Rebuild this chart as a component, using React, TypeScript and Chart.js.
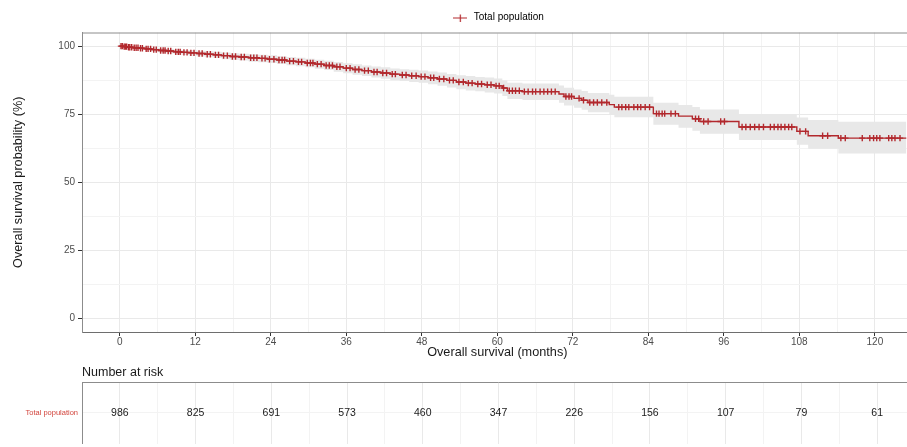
import React, { useEffect, useRef } from 'react';
import { Chart, registerables } from 'chart.js';

Chart.register(...registerables);

// ---------- data ----------
const KM_TIMES = [0, 0.6, 1.3, 2.1, 3.0, 4.0, 5.1, 6.2, 7.4, 8.6, 9.8, 11.0, 12.3, 13.6, 14.9, 16.2, 17.6, 19.0, 20.5, 22.0, 23.5, 25.0, 26.5, 28.0, 29.5, 31.0, 32.5, 34.0, 35.5, 37.0, 38.5, 40.0, 41.5, 43.0, 44.5, 46.0, 47.5, 49.0, 50.5, 52.0, 53.5, 55.0, 56.5, 58.0, 59.5, 60.8, 61.6, 64.0, 69.8, 70.6, 72.2, 73.4, 74.4, 77.8, 78.6, 84.8, 88.8, 91.0, 92.2, 98.4, 107.6, 109.4, 114.2, 125.0];
const KM_SURV = [100, 99.8, 99.6, 99.4, 99.2, 99.0, 98.7, 98.4, 98.2, 97.9, 97.7, 97.5, 97.3, 97.0, 96.8, 96.5, 96.2, 96.0, 95.7, 95.5, 95.2, 94.9, 94.5, 94.2, 93.8, 93.4, 92.9, 92.4, 91.9, 91.4, 91.0, 90.5, 90.1, 89.7, 89.4, 89.1, 88.8, 88.4, 87.9, 87.4, 86.8, 86.4, 86.1, 85.8, 85.4, 84.6, 83.6, 83.3, 82.4, 81.5, 80.8, 80.1, 79.3, 78.5, 77.6, 75.2, 74.3, 73.3, 72.3, 70.3, 68.7, 67.1, 66.2, 66.2];
const CI_UPPER = [100, 100, 99.9, 99.8, 99.7, 99.6, 99.4, 99.2, 99.0, 98.8, 98.6, 98.5, 98.3, 98.1, 97.9, 97.7, 97.4, 97.2, 97.0, 96.8, 96.6, 96.3, 96.0, 95.7, 95.4, 95.0, 94.6, 94.2, 93.7, 93.3, 92.9, 92.5, 92.2, 91.8, 91.5, 91.3, 91.0, 90.7, 90.3, 89.8, 89.3, 89.0, 88.7, 88.5, 88.1, 87.4, 86.5, 86.3, 85.5, 84.7, 84.1, 83.5, 82.8, 82.1, 81.4, 79.2, 78.4, 77.6, 76.7, 74.9, 73.8, 72.9, 72.2, 72.2];
const CI_LOWER = [100, 99.5, 99.2, 99.0, 98.7, 98.4, 98.0, 97.6, 97.3, 97.0, 96.8, 96.5, 96.2, 95.9, 95.6, 95.2, 94.9, 94.7, 94.3, 94.1, 93.8, 93.4, 93.0, 92.6, 92.2, 91.7, 91.2, 90.6, 90.0, 89.5, 89.0, 88.5, 88.0, 87.5, 87.2, 86.8, 86.5, 86.0, 85.4, 84.8, 84.2, 83.7, 83.4, 83.0, 82.6, 81.7, 80.6, 80.2, 79.2, 78.2, 77.4, 76.6, 75.7, 74.8, 73.9, 71.1, 70.0, 68.9, 67.8, 65.5, 63.8, 62.3, 60.6, 60.6];
const CENSOR_TIMES = [0.2, 0.4, 0.7, 0.9, 1.1, 1.4, 1.6, 1.9, 2.3, 2.6, 2.9, 3.3, 3.6, 4.2, 4.5, 4.9, 5.4, 5.8, 6.5, 6.9, 7.2, 7.7, 8.1, 8.9, 9.3, 9.6, 10.2, 10.7, 11.3, 11.8, 12.6, 13.1, 13.9, 14.4, 15.2, 15.7, 16.5, 17.1, 17.9, 18.4, 19.3, 19.8, 20.8, 21.3, 21.8, 22.6, 23.1, 23.8, 24.5, 25.3, 25.8, 26.2, 27.0, 27.6, 28.4, 28.9, 29.8, 30.3, 30.7, 31.4, 32.0, 32.8, 33.3, 33.8, 34.5, 35.0, 36.0, 36.6, 37.4, 38.0, 38.9, 39.5, 40.4, 40.9, 41.8, 42.4, 43.3, 43.8, 44.9, 45.5, 46.4, 47.1, 47.9, 48.5, 49.4, 49.9, 50.8, 51.5, 52.4, 53.0, 53.9, 54.6, 55.4, 56.0, 56.9, 57.5, 58.4, 59.0, 59.8, 60.3, 61.0, 61.9, 62.4, 62.9, 63.5, 64.3, 64.9, 65.6, 66.1, 66.8, 67.4, 68.0, 68.6, 69.2, 70.9, 71.4, 71.8, 73.0, 73.7, 74.7, 75.3, 75.9, 76.6, 77.4, 79.3, 79.8, 80.4, 80.9, 81.7, 82.3, 82.8, 83.5, 84.2, 85.3, 85.7, 86.2, 86.6, 87.6, 88.3, 91.5, 92.0, 92.8, 93.5, 95.5, 96.1, 98.9, 99.5, 100.2, 100.9, 101.6, 102.3, 103.4, 104.0, 104.6, 105.1, 105.7, 106.3, 106.8, 108.1, 109.0, 111.7, 112.5, 114.6, 115.3, 118.0, 119.2, 119.8, 120.3, 120.8, 122.2, 122.7, 123.2, 124.0];

const X_MAJOR = [0, 12, 24, 36, 48, 60, 72, 84, 96, 108, 120];
const X_MINOR = [6, 18, 30, 42, 54, 66, 78, 90, 102, 114];
const Y_MAJOR = [0, 25, 50, 75, 100];
const Y_MINOR = [12.5, 37.5, 62.5, 87.5];

const RISK_TIMES = [0, 12, 24, 36, 48, 60, 72, 84, 96, 108, 120];
const RISK_COUNTS = [986, 825, 691, 573, 460, 347, 226, 156, 107, 79, 61];
const RISK_GROUP = 'Total population';

const SERIES_LABEL = 'Total population';
const X_TITLE = 'Overall survival (months)';
const Y_TITLE = 'Overall survival probability (%)';
const RISK_TITLE = 'Number at risk';

// ---------- style ----------
const FONT = '"Liberation Sans", Arial, Helvetica, sans-serif';
const RED = '#b2282d';
const RED_LABEL = '#d2453d';
const BAND = '#e8e8e8';
const GRID_MAJOR = '#e9e9e9';
const GRID_MINOR = '#f3f3f3';
const BORDER = '#8c8c8c';
const X_MIN = -6;
const X_MAX = 126;

function survAt(t: number): number {
  let s = KM_SURV[0];
  for (let i = 0; i < KM_TIMES.length; i++) {
    if (KM_TIMES[i] <= t) s = KM_SURV[i];
  }
  return s;
}

function makeIcon(): HTMLCanvasElement {
  const c = document.createElement('canvas');
  c.width = 14;
  c.height = 8;
  const g = c.getContext('2d')!;
  g.strokeStyle = RED;
  g.lineWidth = 1.2;
  g.beginPath();
  g.moveTo(0, 4.5);
  g.lineTo(14, 4.5);
  g.moveTo(7.5, 1);
  g.lineTo(7.5, 8);
  g.stroke();
  return c;
}

const isMajor = (v: number) => Math.abs(v % 12) < 1e-6;
const isMajorY = (v: number) => Math.abs(v % 25) < 1e-6;

const panelBorder = {
  id: 'panelBorder',
  afterDraw(chart: any) {
    const { ctx, chartArea } = chart;
    ctx.save();
    ctx.strokeStyle = BORDER;
    ctx.lineWidth = 1;
    ctx.beginPath();
    ctx.moveTo(chartArea.left, chartArea.top + 0.5);
    ctx.lineTo(chartArea.right, chartArea.top + 0.5);
    ctx.moveTo(chartArea.right - 0.5, chartArea.top);
    ctx.lineTo(chartArea.right - 0.5, chartArea.bottom);
    ctx.stroke();
    ctx.restore();
  },
};

const riskLabels = {
  id: 'riskLabels',
  afterDatasetsDraw(chart: any) {
    const { ctx } = chart;
    const xs = chart.scales.x;
    const ys = chart.scales.y;
    ctx.save();
    ctx.fillStyle = '#1a1a1a';
    ctx.font = `10.5px ${FONT}`;
    ctx.textAlign = 'center';
    ctx.textBaseline = 'middle';
    RISK_TIMES.forEach((t, i) => {
      ctx.fillText(String(RISK_COUNTS[i]), xs.getPixelForValue(t), ys.getPixelForValue(1));
    });
    ctx.restore();
  },
};

export default function App() {
  const mainRef = useRef<HTMLCanvasElement>(null);
  const riskRef = useRef<HTMLCanvasElement>(null);

  useEffect(() => {
    const kmPts = KM_TIMES.map((t, i) => ({ x: t, y: KM_SURV[i] }));
    const upPts = KM_TIMES.map((t, i) => ({ x: t, y: CI_UPPER[i] }));
    const loPts = KM_TIMES.map((t, i) => ({ x: t, y: CI_LOWER[i] }));
    const cenPts = CENSOR_TIMES.map((t) => ({ x: t, y: survAt(t) }));
    const icon = makeIcon();
    const xTicks = [...X_MAJOR, ...X_MINOR].sort((a, b) => a - b);
    const yTicks = [...Y_MAJOR, ...Y_MINOR].sort((a, b) => a - b);

    const main = new Chart(mainRef.current!, {
      type: 'line',
      data: {
        datasets: [
          { label: 'censor', data: cenPts, showLine: false, pointStyle: 'cross', pointRadius: 3.2, borderColor: RED, backgroundColor: RED, pointBorderWidth: 1.4, borderWidth: 1.4 } as any,
          { label: SERIES_LABEL, data: kmPts, stepped: true, borderColor: RED, borderWidth: 1.4, pointRadius: 0, fill: false },
          { label: 'lower', data: loPts, stepped: true, borderWidth: 0, borderColor: 'rgba(0,0,0,0)', pointRadius: 0, fill: false },
          { label: 'upper', data: upPts, stepped: true, borderWidth: 0, borderColor: 'rgba(0,0,0,0)', pointRadius: 0, fill: '-1', backgroundColor: BAND },
        ],
      },
      options: {
        responsive: false,
        animation: false,
        events: [],
        layout: { padding: { left: 0, right: 3, top: 0, bottom: 0 } },
        plugins: {
          tooltip: { enabled: false },
          legend: {
            display: true,
            position: 'top',
            fullSize: false,
            maxHeight: 35.5,
            labels: {
              usePointStyle: true,
              pointStyleWidth: 18,
              padding: 12.5,
              color: '#1a1a1a',
              font: { family: FONT, size: 10 },
              generateLabels: () => [
                { text: SERIES_LABEL, pointStyle: icon as any, fillStyle: RED, strokeStyle: RED, lineWidth: 1, hidden: false, datasetIndex: 1 } as any,
              ],
            },
          },
        },
        scales: {
          x: {
            type: 'linear',
            min: X_MIN,
            max: X_MAX,
            afterBuildTicks: (s: any) => { s.ticks = xTicks.map((v) => ({ value: v })); },
            afterFit: (s: any) => { s.height = 30; },
            ticks: {
              autoSkip: false,
              maxRotation: 0,
              padding: 0,
              color: '#4d4d4d',
              font: { family: FONT, size: 10 },
              callback: (v: any) => (isMajor(Number(v)) ? String(v) : ''),
            },
            grid: {
              color: (c: any) => (c.tick && isMajor(c.tick.value) ? GRID_MAJOR : GRID_MINOR),
              tickColor: (c: any) => (c.tick && isMajor(c.tick.value) ? '#333333' : 'rgba(0,0,0,0)'),
              tickLength: 4,
            },
            border: { display: true, color: '#6e6e6e', width: 1 },
            title: {
              display: true,
              text: X_TITLE,
              color: '#1a1a1a',
              font: { family: FONT, size: 12.7 },
              padding: { top: 0, bottom: 1.5 },
            },
          },
          y: {
            type: 'linear',
            min: -5,
            max: 105,
            afterBuildTicks: (s: any) => { s.ticks = yTicks.map((v) => ({ value: v })); },
            afterFit: (s: any) => { s.width = 82; },
            ticks: {
              autoSkip: false,
              padding: 3,
              color: '#4d4d4d',
              font: { family: FONT, size: 10 },
              callback: (v: any) => (isMajorY(Number(v)) ? String(v) : ''),
            },
            grid: {
              color: (c: any) => (c.tick && isMajorY(c.tick.value) ? GRID_MAJOR : GRID_MINOR),
              tickColor: (c: any) => (c.tick && isMajorY(c.tick.value) ? '#333333' : 'rgba(0,0,0,0)'),
              tickLength: 4,
            },
            border: { display: true, color: BORDER, width: 1 },
            title: {
              display: true,
              text: Y_TITLE,
              color: '#1a1a1a',
              font: { family: FONT, size: 12.7 },
              padding: { top: 10.5, bottom: 0 },
            },
          },
        },
      },
      plugins: [panelBorder],
    });

    const risk = new Chart(riskRef.current!, {
      type: 'scatter',
      data: { datasets: [{ label: RISK_GROUP, data: RISK_TIMES.map((t) => ({ x: t, y: 1 })), pointRadius: 0 }] },
      options: {
        responsive: false,
        animation: false,
        events: [],
        layout: { padding: { left: 0, right: 3, top: 0, bottom: 0 } },
        plugins: {
          tooltip: { enabled: false },
          legend: { display: false },
          title: {
            display: true,
            text: RISK_TITLE,
            align: 'start',
            fullSize: false,
            color: '#1a1a1a',
            font: { family: FONT, size: 12.5, weight: 'normal' },
            padding: { top: 5, bottom: 2 },
          },
        },
        scales: {
          x: {
            type: 'linear',
            min: X_MIN,
            max: X_MAX,
            afterBuildTicks: (s: any) => { s.ticks = xTicks.map((v) => ({ value: v })); },
            afterFit: (s: any) => { s.height = 0; },
            ticks: { display: false },
            grid: {
              color: (c: any) => (c.tick && isMajor(c.tick.value) ? GRID_MAJOR : GRID_MINOR),
              drawTicks: false,
            },
            border: { display: false },
          },
          y: {
            type: 'linear',
            min: 0.5,
            max: 1.5,
            afterBuildTicks: (s: any) => { s.ticks = [{ value: 1 }]; },
            afterFit: (s: any) => { s.width = 82; },
            ticks: {
              padding: 4,
              color: RED_LABEL,
              font: { family: FONT, size: 7.5 },
              callback: () => RISK_GROUP,
            },
            grid: { color: GRID_MINOR, drawTicks: false },
            border: { display: true, color: BORDER, width: 1 },
          },
        },
      },
      plugins: [panelBorder, riskLabels],
    });

    return () => {
      main.destroy();
      risk.destroy();
    };
  }, []);

  return (
    <div style={{ position: 'fixed', left: 0, top: 0, width: 907, height: 447, overflow: 'hidden', background: '#ffffff' }}>
      <canvas ref={mainRef} width={918} height={362} style={{ position: 'absolute', left: 0, top: 0, width: 918, height: 362 }} />
      <canvas ref={riskRef} width={918} height={92} style={{ position: 'absolute', left: 0, top: 360, width: 918, height: 92 }} />
    </div>
  );
}
